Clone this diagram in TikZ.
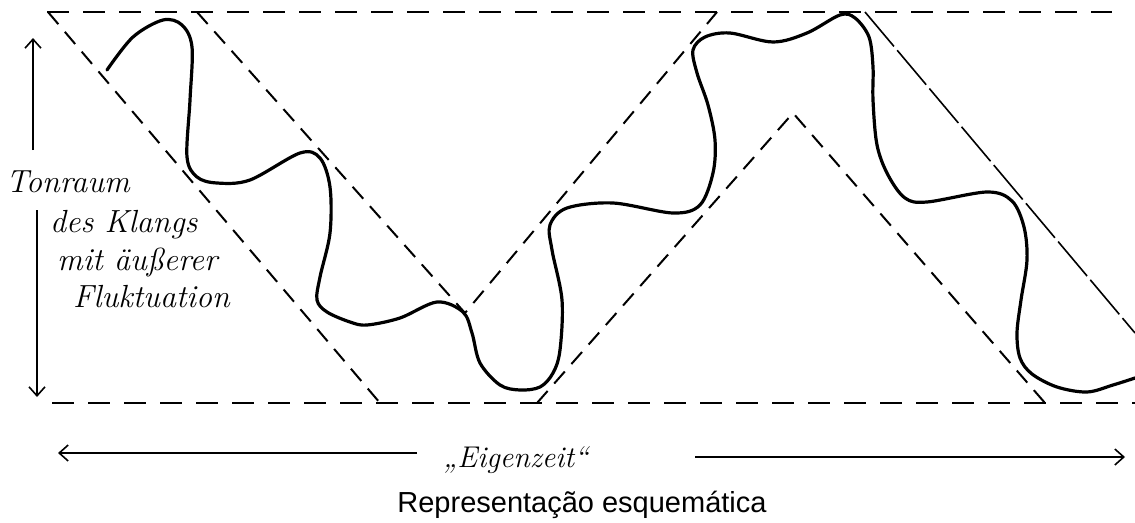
\documentclass[tikz,border=0pt]{standalone}
\usepackage{fontspec}
\newfontfamily\capfont{Liberation Sans}
\usetikzlibrary{arrows.meta}
\tikzset{
  border/.style={line width=2.2pt, dash pattern=on 22pt off 14pt},
  diag/.style={line width=2pt, dash pattern=on 16pt off 10pt},
  longdiag/.style={line width=1.6pt, dash pattern=on 45pt off 5pt},
  wave/.style={line width=3.2pt, line cap=round, line join=round},
  axis/.style={line width=1.6pt, -{Straight Barb[length=9pt,width=16pt,line width=1.6pt]}},
  hand/.style={font=\fontsize{32}{36}\selectfont\itshape, anchor=base west, inner sep=0pt},
  handsmall/.style={font=\fontsize{30}{34}\selectfont\itshape, anchor=base west, inner sep=0pt},
  caption/.style={font=\capfont\fontsize{29}{34}\selectfont, anchor=base, inner sep=0pt}
}
\begin{document}
\begin{tikzpicture}[x=1pt,y=-1pt]
\useasboundingbox (0,0) rectangle (1135,522);
% frame coordinates
\coordinate (tl) at (47,12);
\coordinate (tr) at (1112,12);
\coordinate (bl) at (52,403);
\coordinate (br) at (1135,403);
\coordinate (a1) at (48,12);
\coordinate (a2) at (380,403);
\coordinate (b1) at (197,12);
\coordinate (v) at (465,313);
\coordinate (c1) at (717,12);
\coordinate (d1) at (537,403);
\coordinate (apex) at (793,113);
\coordinate (e2) at (1045,403);
\coordinate (f1) at (865,12);
\coordinate (f2) at (1135,333);
% borders
\draw[border] (tl) -- (tr);
\draw[border] (bl) -- (br);
% diagonals
\draw[diag] (a1) -- (a2);
\draw[diag] (b1) -- (v) -- (c1);
\draw[diag] (d1) -- (apex) -- (e2);
\draw[longdiag] (f1) -- (f2);
% wave
\draw[wave] plot[smooth, tension=0.55] coordinates {
 (107,70) (133,37) (163,20) (182,25) (192,47) (190,100) (187,157) (197,177)
 (217,183) (250,180) (300,153) (320,158) (330,187) (330,233) (320,277)
 (317,300) (327,312) (350,322) (367,325) (400,318) (437,302) (463,312)
 (472,333) (480,363) (500,385) (520,390) (540,387) (553,373) (560,350)
 (562,300) (552,250) (550,225) (567,208) (613,203) (673,213) (700,205)
 (713,173) (715,140) (708,105) (697,73) (693,50) (705,37) (730,33)
 (773,42) (807,33) (840,15) (855,18) (869,37) (873,67) (873,100) (877,145)
 (888,175) (905,198) (927,202) (987,192) (1012,201) (1024,227) (1027,260)
 (1021,300) (1017,333) (1020,358) (1032,374) (1057,387) (1087,392)
 (1113,385) (1135,378)};
% vertical axis
\coordinate (vt) at (33,38);
\coordinate (vm1) at (33,150);
\coordinate (vm2) at (37,210);
\coordinate (vb) at (37,397);
\draw[axis] (vm1) -- (vt);
\draw[axis] (vm2) -- (vb);
% horizontal axis
\coordinate (hl) at (58,453);
\coordinate (hlm) at (417,453);
\coordinate (hrm) at (695,457);
\coordinate (hr) at (1125,457);
\draw[axis] (hlm) -- (hl);
\draw[axis] (hrm) -- (hr);
% labels
\node[hand] (t1) at (6,192) {Tonraum};
\node[hand] (t2) at (50,232) {des Klangs};
\node[hand] (t3) at (57,270) {mit äußerer};
\node[hand] (t4) at (73,307) {Fluktuation};
\node[handsmall] (ez) at (443,467) {„Eigenzeit“};
\node[caption] (cap) at (582,512) {Representação esquemática};
\end{tikzpicture}
\end{document}
